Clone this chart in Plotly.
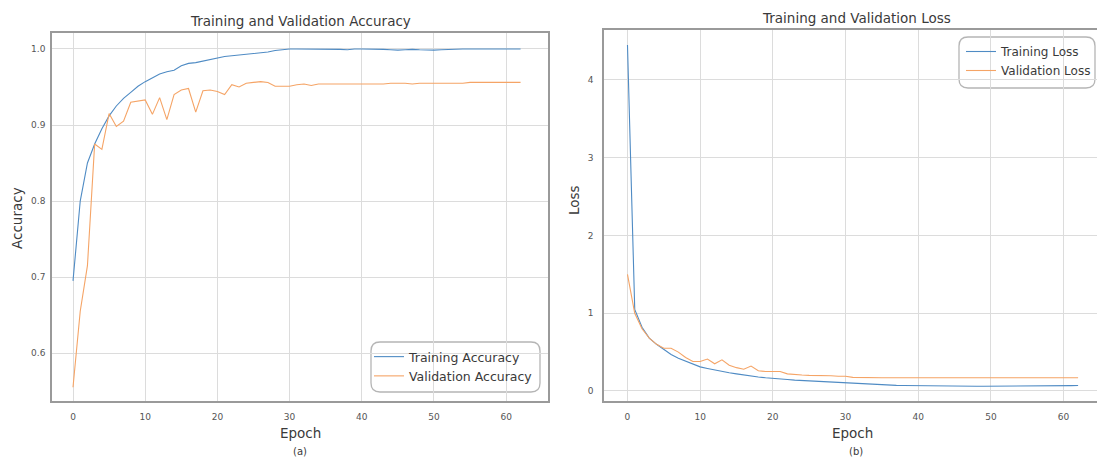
import plotly.graph_objects as go

W, H = 1097, 461

epochs = list(range(63))

train_acc = [0.695, 0.800, 0.850, 0.875, 0.895, 0.912, 0.925, 0.935, 0.943, 0.951,
             0.957, 0.962, 0.967, 0.970, 0.972, 0.978, 0.981, 0.982, 0.984, 0.987,
             0.989, 0.990, 0.991, 0.992, 0.993, 0.994, 0.995, 0.996, 0.998, 0.999,
             1.000, 1.000, 1.000, 0.9995, 1.000, 1.000, 1.000, 0.9995, 0.9990, 1.000,
             1.000, 1.000, 1.000, 0.9995, 0.9990, 0.9985, 0.9990, 0.9995, 0.9990, 0.9985,
             0.9985, 0.9990, 0.9995, 1.000, 1.000, 1.000, 1.000, 1.000, 1.000, 1.000,
             1.000, 1.000, 1.000]
val_acc = [0.555, 0.655, 0.715, 0.875, 0.868, 0.915, 0.898, 0.905, 0.930, 0.932,
           0.933, 0.914, 0.936, 0.907, 0.940, 0.946, 0.948, 0.917, 0.945, 0.946,
           0.944, 0.940, 0.953, 0.950, 0.955, 0.956, 0.957, 0.956, 0.951, 0.951,
           0.951, 0.953, 0.954, 0.952, 0.954, 0.954, 0.954, 0.954, 0.954, 0.954,
           0.954, 0.954, 0.954, 0.954, 0.955, 0.955, 0.955, 0.954, 0.955, 0.955,
           0.955, 0.955, 0.955, 0.955, 0.955, 0.956, 0.956, 0.956, 0.956, 0.956,
           0.956, 0.956, 0.956]

train_loss = [4.45, 1.05, 0.82, 0.68, 0.60, 0.53, 0.47, 0.42, 0.38, 0.35,
              0.31, 0.29, 0.27, 0.25, 0.235, 0.22, 0.205, 0.19, 0.18, 0.17,
              0.16, 0.155, 0.148, 0.140, 0.135, 0.128, 0.122, 0.117, 0.110, 0.105,
              0.100, 0.095, 0.090, 0.086, 0.082, 0.078, 0.075, 0.072, 0.070, 0.068,
              0.066, 0.064, 0.063, 0.062, 0.061, 0.060, 0.060, 0.060, 0.060, 0.060,
              0.060, 0.060, 0.060, 0.061, 0.062, 0.063, 0.064, 0.065, 0.066, 0.067,
              0.068, 0.069, 0.070]
val_loss = [1.50, 1.00, 0.80, 0.68, 0.60, 0.55, 0.55, 0.50, 0.43, 0.38,
            0.38, 0.41, 0.35, 0.40, 0.33, 0.30, 0.28, 0.32, 0.26, 0.25,
            0.25, 0.25, 0.22, 0.21, 0.205, 0.20, 0.20, 0.195, 0.195, 0.19,
            0.19, 0.175, 0.172, 0.170, 0.170, 0.170, 0.170, 0.170, 0.170, 0.170,
            0.170, 0.170, 0.170, 0.170, 0.170, 0.170, 0.170, 0.170, 0.170, 0.170,
            0.170, 0.170, 0.170, 0.170, 0.170, 0.170, 0.170, 0.170, 0.170, 0.170,
            0.170, 0.170, 0.170]

x_ticks = [0, 10, 20, 30, 40, 50, 60]
acc_ticks = [0.6, 0.7, 0.8, 0.9, 1.0]
loss_ticks = [0, 1, 2, 3, 4]

BLUE = "#4f8bc4"
ORANGE = "#f5a466"
FONT = "DejaVu Sans"
TXT = "#3a3a3a"

def X(px):
    return px / W

def Y(py):
    return 1 - py / H

fig = go.Figure()
fig.add_trace(go.Scatter(x=epochs, y=train_acc, mode="lines", name="Training Accuracy",
                         line=dict(color=BLUE, width=1.1), xaxis="x", yaxis="y", legend="legend"))
fig.add_trace(go.Scatter(x=epochs, y=val_acc, mode="lines", name="Validation Accuracy",
                         line=dict(color=ORANGE, width=1.1), xaxis="x", yaxis="y", legend="legend"))
fig.add_trace(go.Scatter(x=epochs, y=train_loss, mode="lines", name="Training Loss",
                         line=dict(color=BLUE, width=1.1), xaxis="x2", yaxis="y2", legend="legend2"))
fig.add_trace(go.Scatter(x=epochs, y=val_loss, mode="lines", name="Validation Loss",
                         line=dict(color=ORANGE, width=1.1), xaxis="x2", yaxis="y2", legend="legend2"))

def axis_common(mirror=True):
    return dict(showgrid=True, gridcolor="#dcdcdc", gridwidth=1, zeroline=False,
                showline=True, linecolor="#9a9a9a", linewidth=1.5, mirror=mirror,
                ticks="", tickfont=dict(family=FONT, size=9, color="#555555"))

fig.update_layout(
    width=W, height=H,
    margin=dict(l=0, r=0, t=0, b=0),
    paper_bgcolor="white", plot_bgcolor="white",
    showlegend=True,
    xaxis=dict(domain=[X(52), X(548)], range=[-2.91, 65.8], tickvals=x_ticks,
               anchor="y", ticklabelstandoff=6, **axis_common()),
    yaxis=dict(domain=[Y(401), Y(33)], range=[0.537, 1.021], tickvals=acc_ticks,
               ticktext=[f"{v:.1f}" for v in acc_ticks], anchor="x",
               ticklabelstandoff=3, **axis_common()),
    xaxis2=dict(domain=[X(604), 1.0], range=[-3.23, 64.6], tickvals=x_ticks,
                anchor="y2", ticklabelstandoff=6, **axis_common(True)),
    yaxis2=dict(domain=[Y(401), Y(30)], range=[-0.129, 4.643], tickvals=loss_ticks,
                anchor="x2", ticklabelstandoff=7, **axis_common(False)),
    legend=dict(x=X(369), y=Y(342), xanchor="left", yanchor="top",
                bgcolor="rgba(0,0,0,0)", borderwidth=0, itemwidth=30,
                tracegroupgap=0, font=dict(family=FONT, size=12.5, color=TXT)),
    legend2=dict(x=X(961), y=Y(37), xanchor="left", yanchor="top",
                 bgcolor="rgba(0,0,0,0)", borderwidth=0, itemwidth=30,
                 tracegroupgap=0, font=dict(family=FONT, size=12, color=TXT)),
)

def rounded_box(x0, y0, x1, y1, r=9):
    rx, ry = r / W, r / H
    a0, a1 = X(x0), X(x1)
    b0, b1 = Y(y1), Y(y0)  # bottom, top in paper
    return (f"M {a0+rx},{b1} L {a1-rx},{b1} Q {a1},{b1} {a1},{b1-ry} "
            f"L {a1},{b0+ry} Q {a1},{b0} {a1-rx},{b0} L {a0+rx},{b0} "
            f"Q {a0},{b0} {a0},{b0+ry} L {a0},{b1-ry} Q {a0},{b1} {a0+rx},{b1} Z")

fig.add_shape(type="path", xref="paper", yref="paper", path=rounded_box(371, 342, 540, 392),
              line=dict(color="#b5b5b5", width=1.3), fillcolor="rgba(255,255,255,0.85)", layer="below")
fig.add_shape(type="path", xref="paper", yref="paper", path=rounded_box(959, 37, 1095, 88),
              line=dict(color="#b5b5b5", width=1.3), fillcolor="rgba(255,255,255,0.85)", layer="below")

def ann(text, px, py, size, rot=0, color=TXT):
    fig.add_annotation(text=text, x=X(px), y=Y(py), xref="paper", yref="paper",
                       showarrow=False, textangle=rot, xanchor="center", yanchor="middle",
                       font=dict(family=FONT, size=size, color=color))

ann("Training and Validation Accuracy", 300, 21, 13.5)
ann("Training and Validation Loss", 856, 18, 13.5)
ann("Epoch", 300, 433, 13.5)
ann("Epoch", 852, 433, 13.5)
ann("(a)", 300, 451, 10)
ann("(b)", 856, 451, 10)
ann("Accuracy", 17, 218, 13.5, rot=-90)
ann("Loss", 574, 200, 13.5, rot=-90)

fig.write_html("out.html")
